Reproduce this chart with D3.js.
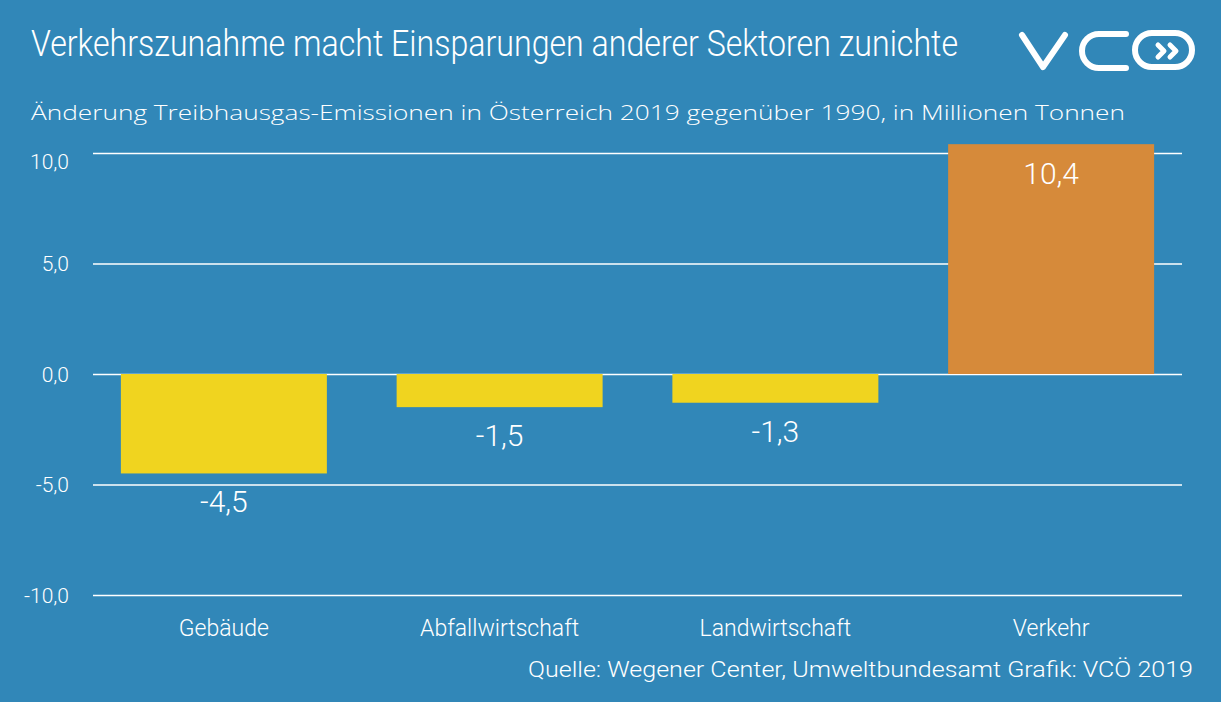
<!DOCTYPE html>
<html>
<head>
<meta charset="utf-8">
<style>
  body { margin: 0; background: #3187b8; }
  svg { display: block; }
  text { fill: #ffffff; }
  .title { font-family: Roboto, sans-serif; font-weight: 300; font-size: 37px; }
  .subtitle { font-family: "Open Sans", sans-serif; font-weight: 300; font-size: 21px; }
  .y-axis text { font-family: Roboto, sans-serif; font-weight: 300; font-size: 21px; }
  .y-axis line { stroke: #ffffff; stroke-width: 1.3; }
  .cat-label { font-family: Roboto, sans-serif; font-weight: 300; font-size: 23px; text-anchor: middle; }
  .value-label { font-family: Roboto, sans-serif; font-weight: 300; font-size: 30px; text-anchor: middle; }
  .source { font-family: Roboto, sans-serif; font-weight: 300; font-size: 22px; text-anchor: end; }
</style>
</head>
<body>
<script src="https://d3js.org/d3.v7.min.js"></script>
<script>
  const categories = ['Gebäude', 'Abfallwirtschaft', 'Landwirtschaft', 'Verkehr'];
  const values = [-4.5, -1.5, -1.3, 10.4];
  const yTicks = [-10, -5, 0, 5, 10];
  const barColors = ['#f0d41f', '#f0d41f', '#f0d41f', '#d68a3a'];

  const title = 'Verkehrszunahme macht Einsparungen anderer Sektoren zunichte';
  const subtitle = 'Änderung Treibhausgas-Emissionen in Österreich 2019 gegenüber 1990, in Millionen Tonnen';
  const source = 'Quelle: Wegener Center, Umweltbundesamt Grafik: VCÖ 2019';

  const width = 1221, height = 702;
  const gridLeft = 93, gridRight = 1182;

  const de = d3.formatLocale({ decimal: ',', thousands: '.', grouping: [3], currency: ['', '€'], minus: '-' });
  const fmt = de.format('.1f');

  const svg = d3.select('body').append('svg')
    .attr('width', width)
    .attr('height', height);

  svg.append('rect')
    .attr('width', width)
    .attr('height', height)
    .attr('fill', '#3187b8');

  // titles
  svg.append('text')
    .attr('class', 'title')
    .attr('x', 31).attr('y', 56)
    .attr('textLength', 927)
    .attr('lengthAdjust', 'spacingAndGlyphs')
    .text(title);

  svg.append('text')
    .attr('class', 'subtitle')
    .attr('x', 31).attr('y', 120)
    .attr('textLength', 1094)
    .attr('lengthAdjust', 'spacingAndGlyphs')
    .text(subtitle);

  // scales
  const y = d3.scaleLinear()
    .domain([-10, 10])
    .range([595, 153]);

  const x = d3.scaleBand()
    .domain(categories)
    .range([86, 1189])
    .paddingInner(0.253)
    .paddingOuter(0.1265);

  const yAxis = d3.axisLeft(y)
    .tickValues(yTicks)
    .tickSize(-(gridRight - gridLeft))
    .tickPadding(24)
    .tickFormat(fmt);

  const axisG = svg.append('g')
    .attr('class', 'y-axis')
    .attr('transform', `translate(${gridLeft},0)`)
    .call(yAxis);
  axisG.select('.domain').remove();
  axisG.selectAll('text')
    .attr('dy', d => d === 10 ? '0.75em' : '0.35em');

  // bars
  svg.append('g').selectAll('rect')
    .data(values)
    .join('rect')
    .attr('x', (d, i) => x(categories[i]))
    .attr('y', d => y(Math.max(0, d)))
    .attr('width', x.bandwidth())
    .attr('height', d => Math.abs(y(d) - y(0)))
    .attr('fill', (d, i) => barColors[i]);

  // value labels
  svg.append('g').selectAll('text')
    .data(values)
    .join('text')
    .attr('class', 'value-label')
    .attr('x', (d, i) => x(categories[i]) + x.bandwidth() / 2)
    .attr('y', d => d < 0 ? y(d) + 39 : y(d) + 40)
    .text(d => fmt(d));

  // category labels
  svg.append('g').selectAll('text')
    .data(categories)
    .join('text')
    .attr('class', 'cat-label')
    .attr('x', d => x(d) + x.bandwidth() / 2)
    .attr('y', 636)
    .text(d => d);

  svg.append('text')
    .attr('class', 'source')
    .attr('x', 1193).attr('y', 677)
    .attr('textLength', 665)
    .attr('lengthAdjust', 'spacingAndGlyphs')
    .text(source);

  // logo
  const logo = svg.append('g')
    .attr('fill', 'none')
    .attr('stroke', '#ffffff')
    .attr('stroke-width', 6)
    .attr('stroke-linecap', 'round')
    .attr('stroke-linejoin', 'round');
  logo.append('path').attr('d', 'M1022,35 L1043,67 L1065,35');
  logo.append('path').attr('d', 'M1126,34 H1099 A17,17 0 0 0 1099,68 H1126');
  logo.append('rect')
    .attr('x', 1135).attr('y', 33).attr('width', 57).attr('height', 34).attr('rx', 17);
  logo.append('path').attr('d', 'M1158,45 L1164,51 L1158,57 M1170,45 L1176,51 L1170,57')
    .attr('stroke-width', 5);
</script>
</body>
</html>
